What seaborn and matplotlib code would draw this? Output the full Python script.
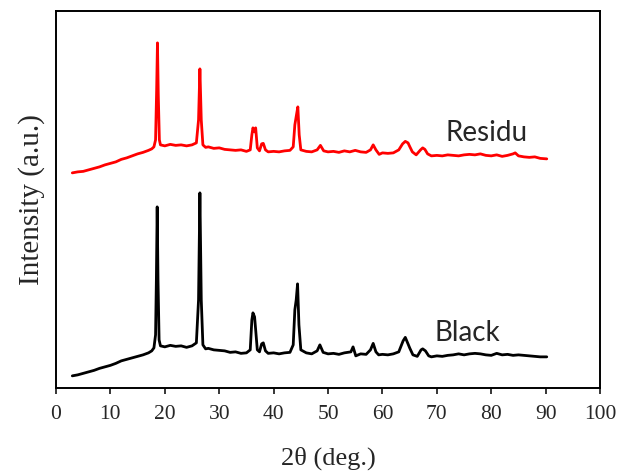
import numpy as np
import pandas as pd
import seaborn as sns
import matplotlib.pyplot as plt

# values (2theta in deg., intensity in arbitrary units)
residu_2theta = [3.0, 4.0, 5.0, 6.0, 7.0, 8.0, 9.0, 10.0, 11.0, 12.0, 13.0, 14.0, 15.0,
                 16.0, 17.0, 17.6, 18.0, 18.3, 18.5, 18.65, 18.8, 19.0, 19.2, 20, 21, 22,
                 23, 24, 25, 25.8, 26.2, 26.45, 26.7, 27.0, 27.5, 28, 29, 30, 31, 32, 33,
                 34, 35, 35.7, 36.0, 36.2, 36.5, 36.7, 37.0, 37.4, 37.8, 38.1, 38.5, 39,
                 40, 41, 42, 43, 43.6, 43.9, 44.2, 44.45, 44.7, 45.0, 46, 47, 48.0, 48.6,
                 49.2, 50, 51, 52, 53, 54, 55, 56, 57, 57.8, 58.3, 58.8, 59.4, 60, 61, 62,
                 63, 63.7, 64.2, 64.7, 65.0, 65.5, 66.2, 67.0, 67.4, 67.8, 68.3, 69, 70,
                 71, 72, 73, 74, 75, 76, 77, 78, 79, 80, 81, 82, 83, 84, 84.4, 85, 86, 87,
                 88, 89, 90.2]
residu_int = [215, 216, 216.5, 218, 219.5, 221, 223, 224.5, 226, 228.5, 230, 232, 234,
              235.5, 237.5, 239, 241, 248, 298, 345, 293, 248, 243, 242, 243.5, 242.5,
              243, 242, 243, 245, 268, 319, 268, 243, 240.5, 241, 239.5, 240, 238.5, 238,
              237.5, 238, 236.5, 238, 253, 260, 256, 260, 240, 237, 244, 244.5, 238, 236,
              236.5, 236, 237, 237.5, 241, 263, 273, 281, 253, 238, 236.5, 236, 238, 242.5,
              237, 236, 236.5, 235.5, 237, 236, 237.5, 236, 235.5, 238, 243, 238, 233.5,
              235, 234.5, 235, 238, 244, 246.5, 245, 241.5, 236, 233, 238, 240, 238.5,
              234, 232, 232.5, 232, 233, 232.5, 232, 233, 233.5, 233, 234, 232.5, 232,
              233, 231.5, 232.5, 234, 235, 232, 231, 230.5, 231, 229.5, 229]

black_2theta = [3.0, 4.0, 5.0, 6.0, 7.0, 8.0, 9.0, 10.0, 11.0, 12.0, 13.0, 14.0, 15.0,
                16.0, 17.0, 17.6, 18.0, 18.3, 18.45, 18.6, 18.75, 18.95, 19.2, 20, 21, 22,
                23, 24, 25, 25.8, 26.2, 26.45, 26.7, 27.0, 27.5, 28, 29, 30, 31, 32, 33,
                34, 35, 35.7, 36.0, 36.2, 36.5, 36.7, 37.0, 37.4, 37.8, 38.1, 38.5, 39,
                40, 41, 42, 43, 43.6, 43.9, 44.15, 44.4, 44.65, 45.0, 46, 47, 48.0, 48.5,
                49.1, 50, 51, 52, 53, 54.2, 54.6, 55.1, 56, 57, 57.8, 58.3, 58.8, 59.3,
                60, 61, 62, 63, 63.8, 64.2, 64.7, 65.0, 65.6, 66.4, 67.1, 67.4, 67.9,
                68.5, 69, 70, 71, 72, 73, 74, 75, 76, 77, 78, 79, 80, 81, 82, 83, 84, 85,
                86, 87, 88, 89, 90.2]
black_int = [12, 13, 14.5, 16, 17.5, 19.5, 21, 22.5, 24.5, 27, 28.5, 30, 31.5, 33, 35,
             37, 40, 53, 108, 181, 108, 48, 42, 41, 42.5, 41.5, 42, 40.5, 42, 45, 88, 195,
             88, 43, 39, 39.5, 38, 37.5, 37, 35.5, 36, 34.5, 35, 38, 68, 75, 71, 58, 38,
             36, 44, 45, 37, 34.5, 35, 34, 35, 35.5, 43, 78, 88, 104, 63, 38, 35, 34, 37,
             43, 35.5, 34, 34.5, 33.5, 35, 36, 41, 32, 34, 33.5, 38, 44.5, 36, 33, 33.5,
             33, 34, 36, 47, 50.5, 44, 40, 33, 31.5, 38, 39, 37, 32, 31, 32, 31.5, 32.5,
             33, 34, 33, 34, 34.5, 34, 33, 32.5, 34.5, 33, 33.5, 32.5, 33, 32.5, 32, 31.5,
             31, 31]

df = pd.concat([
    pd.DataFrame({"two_theta": residu_2theta, "intensity": residu_int, "sample": "Residu"}),
    pd.DataFrame({"two_theta": black_2theta, "intensity": black_int, "sample": "Black"}),
])

sns.set_style("ticks")
plt.rcParams["font.family"] = ["Liberation Serif", "DejaVu Serif"]

fig, ax = plt.subplots(figsize=(6.18, 4.73), dpi=100)
fig.subplots_adjust(left=0.0906, right=0.971, top=0.977, bottom=0.180)

sns.lineplot(data=df, x="two_theta", y="intensity", hue="sample",
             palette={"Residu": "#ff0000", "Black": "black"}, linewidth=2.0,
             legend=False, ax=ax, sort=False)

ax.set_xlim(0, 100)
ax.set_ylim(0, 377)
ax.set_xticks(range(0, 101, 10))
ax.set_yticks([])
ax.tick_params(axis="x", direction="out", length=4.5, width=1.3, labelsize=15.5, pad=8)
for sp in ax.spines.values():
    sp.set_linewidth(1.4)
    sp.set_color("black")
ax.set_xlabel("2θ (deg.)", fontsize=19, labelpad=16)
ax.set_ylabel("Intensity (a.u.)", fontsize=21, labelpad=8)

ax.text(79.1, 255, "Residu", fontsize=20, family=["Lato", "DejaVu Sans"],
        ha="center", va="center")
ax.text(75.6, 55, "Black", fontsize=20, family=["Lato", "DejaVu Sans"],
        ha="center", va="center")

fig.savefig("out.png", dpi=100)
